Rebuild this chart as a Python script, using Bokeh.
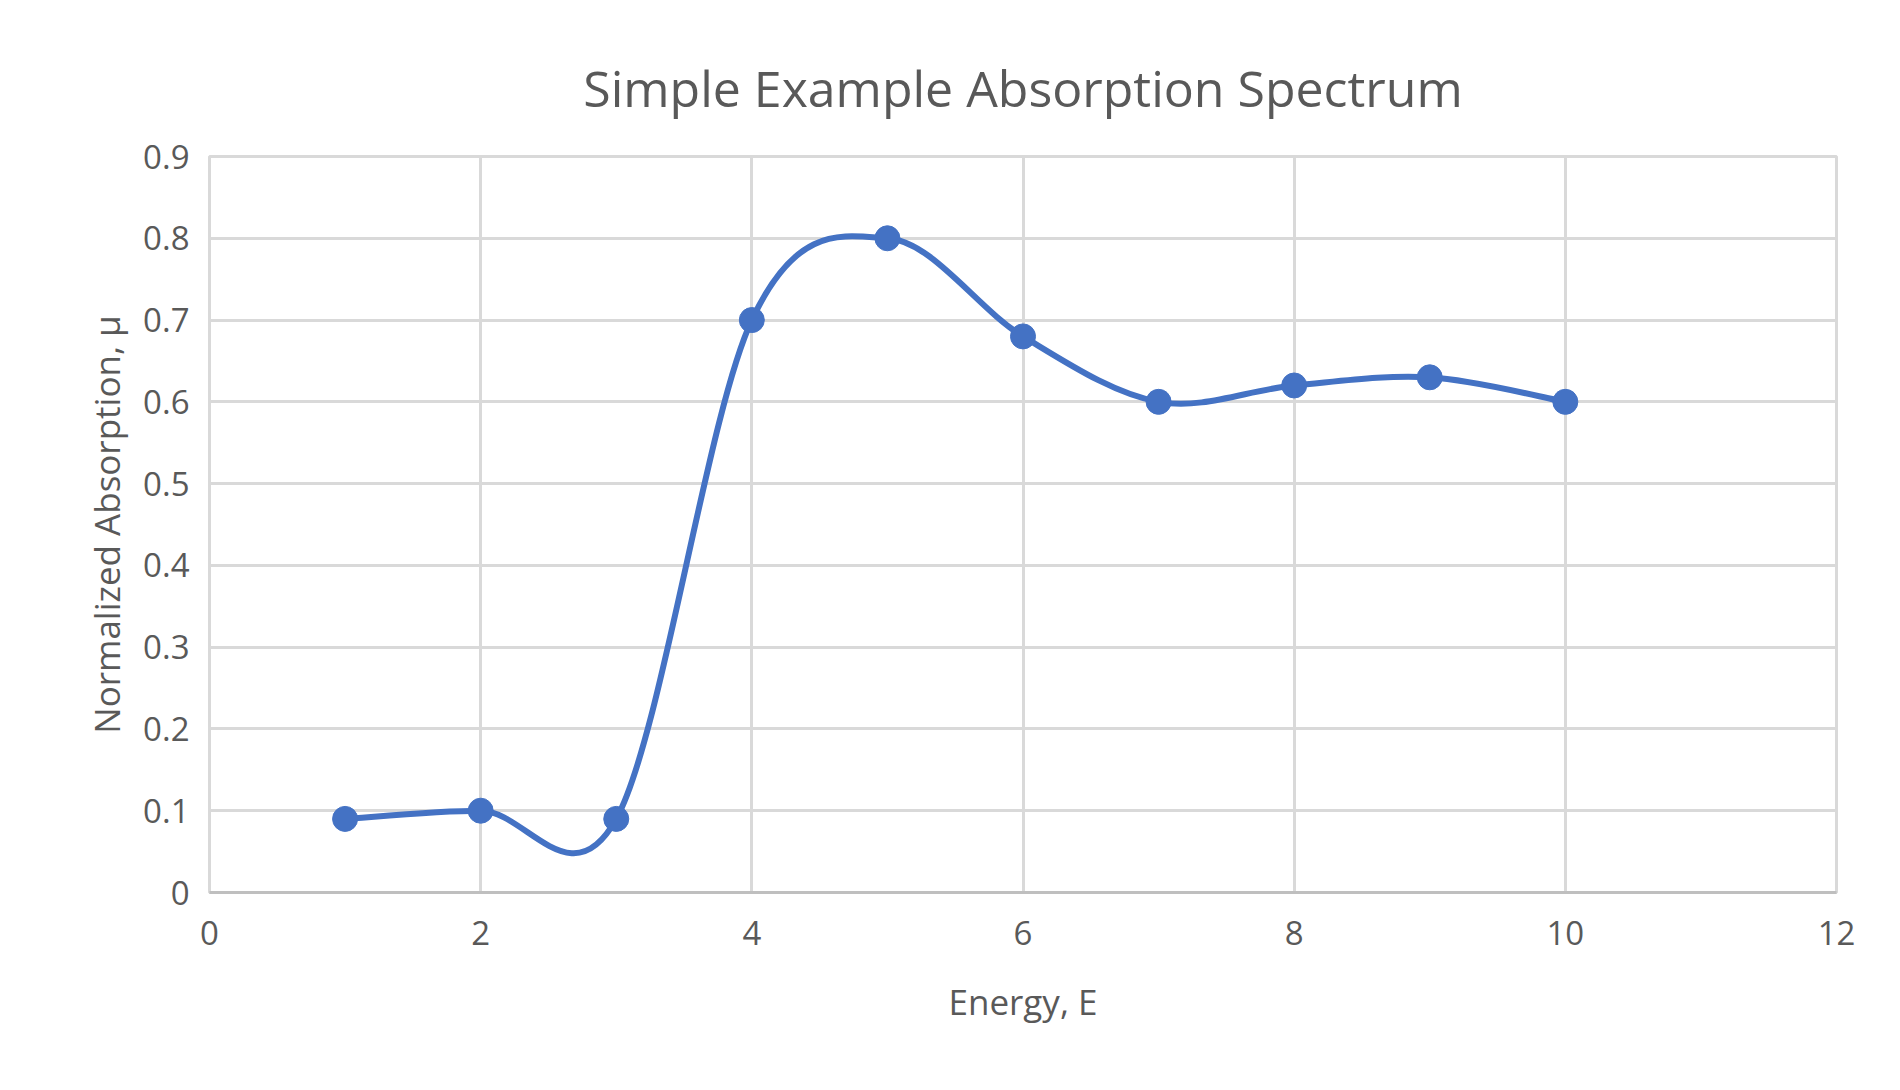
from bokeh.plotting import figure
from bokeh.models import FixedTicker, Range1d
from bokeh.embed import file_html
from bokeh.resources import INLINE

energy = [1, 2, 3, 4, 5, 6, 7, 8, 9, 10]
absorption = [0.09, 0.10, 0.09, 0.70, 0.80, 0.68, 0.60, 0.62, 0.63, 0.60]
x_ticks = [0, 2, 4, 6, 8, 10, 12]
y_ticks = [0, 0.1, 0.2, 0.3, 0.4, 0.5, 0.6, 0.7, 0.8, 0.9]

FONT = "Open Sans"
GREY = "#595959"
BLUE = "#4472C4"

p = figure(
    width=1884, height=1074,
    output_backend="svg", toolbar_location=None,
    title="Simple Example Absorption Spectrum",
    x_range=Range1d(0, 12), y_range=Range1d(0, 0.9),
    x_axis_label="Energy, E", y_axis_label="Normalized Absorption, μ",
    min_border_left=209, min_border_right=48, min_border_top=156, min_border_bottom=182,
)
p.outline_line_color = "#d9d9d9"
p.outline_line_width = 3

p.title.align = "center"
p.title.text_font = FONT
p.title.text_font_size = "50px"
p.title.text_font_style = "normal"
p.title.text_color = GREY
p.title.offset = 0
p.title.standoff = 70

for ax, ticks in ((p.xaxis, x_ticks), (p.yaxis, y_ticks)):
    ax.ticker = FixedTicker(ticks=ticks)
    ax.major_label_text_font = FONT
    ax.major_label_text_font_size = "33px"
    ax.major_label_text_color = GREY
    ax.axis_label_text_font = FONT
    ax.axis_label_text_font_size = "35px"
    ax.axis_label_text_font_style = "normal"
    ax.axis_label_text_color = GREY
    ax.major_tick_line_color = None
    ax.minor_tick_line_color = None
p.xaxis.axis_line_color = "#bfbfbf"
p.xaxis.axis_line_width = 3
p.yaxis.axis_line_color = None
p.xaxis.major_label_standoff = 22
p.xaxis.axis_label_standoff = 30
p.yaxis.major_label_standoff = 14
p.yaxis.axis_label_standoff = 10

p.grid.grid_line_color = "#d9d9d9"
p.grid.grid_line_width = 3
p.xgrid.ticker = FixedTicker(ticks=x_ticks)
p.ygrid.ticker = FixedTicker(ticks=y_ticks)

# smoothed line through the points (Catmull-Rom style Bezier segments)
n = len(energy)
x0, y0, x1, y1, cx0, cy0, cx1, cy1 = [], [], [], [], [], [], [], []
for i in range(n - 1):
    a = max(i - 1, 0)
    d = min(i + 2, n - 1)
    x0.append(energy[i]); y0.append(absorption[i])
    x1.append(energy[i + 1]); y1.append(absorption[i + 1])
    cx0.append(energy[i] + (energy[i + 1] - energy[a]) / 6)
    cy0.append(absorption[i] + (absorption[i + 1] - absorption[a]) / 6)
    cx1.append(energy[i + 1] - (energy[d] - energy[i]) / 6)
    cy1.append(absorption[i + 1] - (absorption[d] - absorption[i]) / 6)
p.bezier(x0=x0, y0=y0, x1=x1, y1=y1, cx0=cx0, cy0=cy0, cx1=cx1, cy1=cy1,
         line_color=BLUE, line_width=6)
p.scatter(energy, absorption, size=25, color=BLUE)

open("out.html", "w").write(file_html(p, INLINE))
